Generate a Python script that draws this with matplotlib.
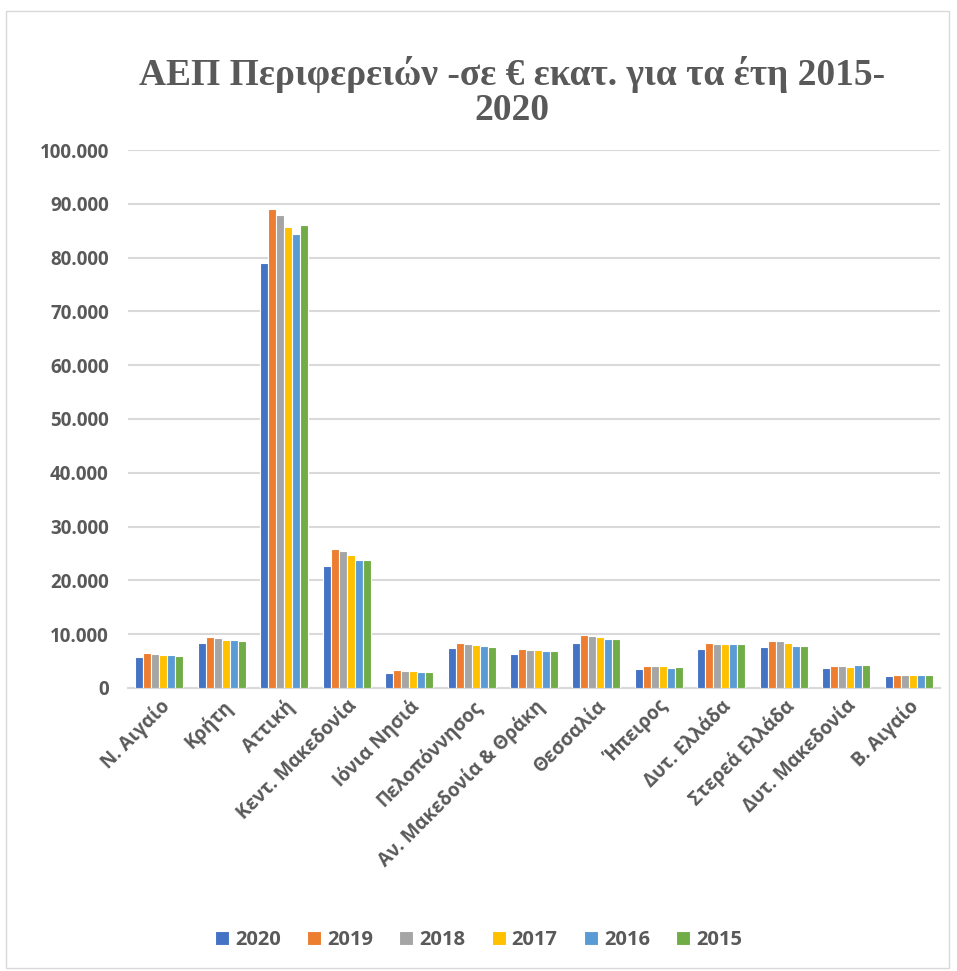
import numpy as np
import matplotlib.pyplot as plt
from matplotlib.patches import Rectangle
from matplotlib.ticker import FuncFormatter

# ΑΕΠ ανά περιφέρεια, σε εκατ. €
regions = ['Ν. Αιγαίο', 'Κρήτη', 'Αττική', 'Κεντ. Μακεδονία', 'Ιόνια Νησιά',
           'Πελοπόννησος', 'Αν. Μακεδονία & Θράκη', 'Θεσσαλία', 'Ήπειρος',
           'Δυτ. Ελλάδα', 'Στερεά Ελλάδα', 'Δυτ. Μακεδονία', 'Β. Αιγαίο']
years = ['2020', '2019', '2018', '2017', '2016', '2015']

gdp_2020 = [5670, 8290, 79000, 22650, 2870, 7350, 6290, 8290, 3610, 7290, 7660, 3740, 2180]
gdp_2019 = [6420, 9470, 89100, 25750, 3300, 8410, 7230, 9780, 4110, 8410, 8780, 4050, 2490]
gdp_2018 = [6290, 9350, 88000, 25400, 3240, 8220, 7100, 9600, 4050, 8220, 8660, 3990, 2490]
gdp_2017 = [6100, 8970, 85700, 24800, 3180, 8040, 7040, 9410, 3990, 8160, 8350, 3930, 2430]
gdp_2016 = [6040, 8850, 84400, 23700, 3050, 7790, 6790, 9100, 3800, 8100, 7850, 4240, 2430]
gdp_2015 = [5980, 8660, 86000, 23700, 3050, 7660, 6920, 9030, 3860, 8220, 7730, 4300, 2490]
series = [gdp_2020, gdp_2019, gdp_2018, gdp_2017, gdp_2016, gdp_2015]

colors = ['#4472C4', '#ED7D31', '#A5A5A5', '#FFC000', '#5B9BD5', '#70AD47']
text_color = '#595959'
font = ['Open Sans', 'DejaVu Sans']

plt.rcParams['font.family'] = font

fig = plt.figure(figsize=(9.57, 9.71), dpi=100)
ax = fig.add_axes([0.134, 0.2915, 0.848, 0.554])

# outer chart frame
fig.patches.append(Rectangle((0.006, 0.003), 0.986, 0.986, transform=fig.transFigure,
                             fill=False, edgecolor='#d9d9d9', linewidth=1.0))

x = np.arange(len(regions))
group = 0.77
w = group / len(years)
for i, (yr, vals) in enumerate(zip(years, series)):
    ax.bar(x - group / 2 + w * (i + 0.5), vals, width=w, color=colors[i],
           edgecolor='white', linewidth=0.8, label=yr, zorder=3)

ax.set_xlim(-0.5, len(regions) - 0.5)
ax.set_ylim(0, 100000)
ax.set_yticks(np.arange(0, 100001, 10000))
ax.yaxis.set_major_formatter(FuncFormatter(lambda v, p: f'{int(v):,}'.replace(',', '.')))
ax.grid(axis='y', color='#d9d9d9', linewidth=1.5, zorder=0)
for s in ['top', 'right', 'left']:
    ax.spines[s].set_visible(False)
ax.spines['bottom'].set_color('#d9d9d9')
ax.spines['bottom'].set_linewidth(1.5)
ax.tick_params(axis='both', length=0, colors=text_color, labelsize=13.5)
ax.tick_params(axis='y', pad=14)
ax.tick_params(axis='x', pad=6)

ax.set_xticks(x)
ax.set_xticklabels(regions, rotation=45, ha='right', rotation_mode='anchor',
                   fontweight='bold')
for lab in ax.get_yticklabels():
    lab.set_fontweight('bold')

fig.text(0.535, 0.905, 'ΑΕΠ Περιφερειών -σε € εκατ. για τα έτη 2015-\n2020',
         ha='center', va='center', fontsize=27, fontweight='bold',
         family=['Liberation Serif', 'DejaVu Serif'], color=text_color,
         linespacing=1.0)

ax.legend(loc='center', bbox_to_anchor=(0.5, (971 - 940) / 971), bbox_transform=fig.transFigure,
          ncol=6, frameon=False, handlelength=0.7, handleheight=0.7,
          handletextpad=0.3, columnspacing=1.3,
          prop={'weight': 'bold', 'size': 14.5}, labelcolor=text_color)

fig.savefig('out.png', dpi=100)
